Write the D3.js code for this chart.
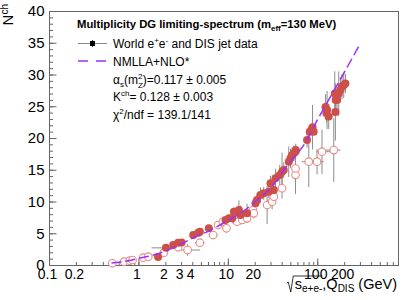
<!DOCTYPE html>
<html>
<head>
<meta charset="utf-8">
<script src="https://cdn.jsdelivr.net/npm/d3@7"></script>
<style>
    body { margin: 0; background: #fff; }
    svg text { font-family: "Liberation Sans", Arial, Helvetica, sans-serif; fill: #000; }
</style>
</head>
<body>
<svg id="chart" width="409" height="300"></svg>
<script>
(function (d3) {
    'use strict';

    // axes
    var xTickLabels = [0.1, 0.2, 1, 2, 3, 4, 10, 20, 100, 200];
    var xMajorTicks = [0.1, 1, 10, 100];
    var yTickLabels = [0, 5, 10, 15, 20, 25, 30, 35, 40];

    // world e+e- and DIS jet data (filled markers)
    var eeQ   = [1.66, 2.03, 2.45, 2.78, 3.04, 4.10, 4.66, 4.87, 6.13, 9.42, 10.3, 11.2, 11.7, 13.3, 13.9, 16.4,
                 20.4, 21.2, 23.2, 25.2, 28.7, 30.0, 32.7, 34.1, 38.1, 40.4, 42.2, 48.0, 50.2, 52.3, 54.6, 57.1,
                 57.5, 76.9, 82.4, 87.5, 88.6, 91.2, 123.6, 126.7, 128.8, 134.4, 156.9, 159.6, 161, 166.4,
                 173.9, 181.6, 189.3, 197.8, 206.6];
    var eeN   = [1.26, 2.70, 3.15, 3.51, 3.54, 4.72, 5.09, 5.24, 5.78, 7.09, 7.35, 7.35, 8.39, 8.66, 7.87, 8.14,
                 9.72, 10.24, 11.02, 11.29, 11.54, 12.87, 11.81, 13.65, 14.17, 14.69, 14.96, 16.27, 16.8, 17.3, 17.6, 17.84,
                 18.1, 19.7, 21.0, 21.5, 21.7, 21.0, 24.9, 23.9, 24.4, 23.4, 27.0, 24.1, 26.0, 26.0,
                 27.0, 27.6, 28.1, 28.3, 28.6];
    var eeErr = [0.35, 0.3, 0.3, 0.3, 0.3, 0.35, 0.3, 0.3, 0.4, 0.5, 0.6, 0.8, 0.7, 1.5, 1.5, 1.5,
                 0.8, 1.0, 1.2, 1.0, 1.0, 1.2, 1.8, 1.5, 1.6, 3.0, 1.2, 2.4, 1.5, 1.2, 1.2, 1.0,
                 1.0, 1.2, 1.0, 0.8, 3.5, 0.3, 2.0, 1.5, 3.0, 2.0, 3.5, 4.5, 1.5, 2.0,
                 3.5, 2.0, 2.0, 2.0, 1.5];
    var eeQlo = [null, 1.4, null, null, null, 3.9];
    var eeQhi = [null, 2.9, null, null, null, 5.1];

    // open markers
    var disQ   = [0.51, 0.69, 0.80, 0.86, 1.13, 1.29, 1.93, 2.78, 3.55, 4.87, 6.85, 7.79, 8.8, 9.66, 12.7, 14.5,
                  16.4, 19.1, 19.5, 27.5, 31.3, 32.7, 40.4, 57.1, 57.1, 80.4, 99.5, 113, 153];
    var disN   = [0.27, 0.52, 0.68, 0.79, 1.15, 1.31, 1.94, 2.79, 2.36, 3.51, 4.72, 6.3, 6.8, 5.78, 6.82, 7.09,
                  7.35, 8.66, 8.14, 9.45, 9.97, 10.76, 12.08, 14.2, 15.2, 16.27, 16.27, 17.84, 18.1];
    var disErr = [0.1, 0.1, 0.1, 0.1, 0.15, 0.15, 0.2, 0.25, 0.9, 0.4, 0.5, 0.4, 0.4, 0.7, 0.6, 0.6,
                  0.6, 0.8, 0.8, 3.0, 1.2, 1.0, 1.6, 3.0, 2.5, 4.0, 2.0, 3.5, 5.0];
    var disQlo = [null, null, null, null, null, null, null, null, 2.9, 4.3, 6.1, null, null, null, null, null,
                  null, null, null, null, null, null, null, null, null, 67, 85, 98, 125];
    var disQhi = [null, null, null, null, null, null, null, null, 4.9, 5.5, 7.7, null, null, null, null, null,
                  null, null, null, null, null, null, null, null, null, 95, 118, 140, 182];

    // NMLLA+NLO* curve
    var fitQ = [0.5, 0.6, 0.8, 1, 1.5, 2, 3, 4, 6, 10, 15, 20, 30, 50, 70, 100, 150, 200, 290];
    var fitN = [0.3, 0.45, 0.7, 1.05, 1.6, 2.2, 3.3, 4.2, 5.3, 7.0, 8.5, 9.9, 12.1, 16.3, 18.8, 22.8, 27.2, 30.3, 34.4];

    var red = '#cd4f47', pink = '#e88a86', violet = '#9b30ff', grey = '#8c8c8c', axisCol = '#666';

    var svg = d3.select('#chart');
    var left = 49, right = 398, top = 11, bottom = 265;

    var x = d3.scaleLog().domain([0.1, 800]).range([left, right]);
    var y = d3.scaleLinear().domain([0, 40]).range([bottom, top]);

    function toPoints(q, n, e, lo, hi) {
        return q.map(function (d, i) {
            return { q: d, n: n[i], e: e[i], lo: lo[i] || null, hi: hi[i] || null };
        });
    }
    var ee  = toPoints(eeQ, eeN, eeErr, eeQlo, eeQhi);
    var dis = toPoints(disQ, disN, disErr, disQlo, disQhi);

    // frame
    svg.append('rect')
        .attr('x', left + 0.5).attr('y', top + 0.5)
        .attr('width', right - left).attr('height', bottom - top)
        .attr('fill', 'none').attr('stroke', axisCol);

    // y axis
    function styleAxis(g) {
        g.select('.domain').remove();
        g.selectAll('line').attr('stroke', axisCol);
    }
    svg.append('g').attr('transform', 'translate(' + (left + 0.5) + ',0)')
        .call(d3.axisLeft(y).ticks(40).tickSize(-3.5).tickFormat(''))
        .call(styleAxis);
    svg.append('g').attr('transform', 'translate(' + (left + 0.5) + ',0)')
        .call(d3.axisLeft(y).tickValues(yTickLabels).tickSize(-7).tickPadding(5).tickFormat(d3.format('d')))
        .call(styleAxis)
        .selectAll('text').attr('font-size', 15).attr('x', -5);

    // x axis
    svg.append('g').attr('transform', 'translate(0,' + (bottom + 0.5) + ')')
        .call(d3.axisBottom(x).tickValues(x.ticks()).tickSize(-3.5).tickFormat(''))
        .call(styleAxis);
    svg.append('g').attr('transform', 'translate(0,' + (bottom + 0.5) + ')')
        .call(d3.axisBottom(x).tickValues(xMajorTicks).tickSize(-7).tickFormat(''))
        .call(styleAxis);
    svg.append('g').attr('transform', 'translate(0,' + (bottom + 0.5) + ')')
        .call(d3.axisBottom(x).tickValues(xTickLabels).tickSize(0).tickPadding(4).tickFormat(String))
        .call(styleAxis)
        .selectAll('text').attr('font-size', 14).attr('dx', -2);

    // error bars
    var bars = svg.append('g').attr('stroke', grey).attr('stroke-width', 1);
    ee.concat(dis).forEach(function (d) {
        bars.append('line')
            .attr('x1', x(d.q)).attr('x2', x(d.q))
            .attr('y1', y(d.n - d.e)).attr('y2', y(d.n + d.e));
        if (d.lo) {
            bars.append('line')
                .attr('x1', x(d.lo)).attr('x2', x(d.hi))
                .attr('y1', y(d.n)).attr('y2', y(d.n));
        }
    });

    // markers
    svg.append('g').selectAll('circle').data(dis).enter().append('circle')
        .attr('cx', function (d) { return x(d.q); })
        .attr('cy', function (d) { return y(d.n); })
        .attr('r', 3.8)
        .attr('fill', '#fff').attr('stroke', pink).attr('stroke-width', 1.1);

    svg.append('g').selectAll('circle').data(ee).enter().append('circle')
        .attr('cx', function (d) { return x(d.q); })
        .attr('cy', function (d) { return y(d.n); })
        .attr('r', 4)
        .attr('fill', red);

    // curve
    var line = d3.line()
        .x(function (d) { return x(d[0]); })
        .y(function (d) { return y(d[1]); })
        .curve(d3.curveMonotoneX);
    svg.append('path')
        .datum(fitQ.map(function (q, i) { return [q, fitN[i]]; }))
        .attr('d', line)
        .attr('fill', 'none').attr('stroke', violet)
        .attr('stroke-width', 1.5).attr('stroke-dasharray', '10,4');

    // legend
    var lg = svg.append('g');
    var header = lg.append('text').attr('x', 77).attr('y', 28)
        .attr('font-size', 11.3).attr('font-weight', 'bold');
    header.append('tspan').text('Multiplicity DG limiting-spectrum (m');
    header.append('tspan').attr('font-size', 8).attr('dy', 3).text('eff');
    header.append('tspan').attr('dy', -3).text('=130 MeV)');

    lg.append('line').attr('x1', 78).attr('x2', 107).attr('y1', 43.5).attr('y2', 43.5)
        .attr('stroke', '#888');
    lg.append('line').attr('x1', 92.5).attr('x2', 92.5).attr('y1', 40).attr('y2', 47)
        .attr('stroke', '#333');
    lg.append('rect').attr('x', 90).attr('y', 41).attr('width', 5).attr('height', 5).attr('fill', '#000');
    var t1 = lg.append('text').attr('x', 113).attr('y', 47.5).attr('font-size', 12);
    t1.append('tspan').text('World e');
    t1.append('tspan').attr('font-size', 8).attr('dy', -5).text('+');
    t1.append('tspan').attr('dy', 5).text('e');
    t1.append('tspan').attr('font-size', 8).attr('dy', -5).text('-');
    t1.append('tspan').attr('dy', 5).text(' and DIS jet data');

    lg.append('line').attr('x1', 78).attr('x2', 107).attr('y1', 61).attr('y2', 61)
        .attr('stroke', violet).attr('stroke-width', 1.5).attr('stroke-dasharray', '10,8');
    lg.append('text').attr('x', 113).attr('y', 65.5).attr('font-size', 12).text('NMLLA+NLO*');

    var t3 = lg.append('text').attr('x', 113).attr('y', 83.5).attr('font-size', 12);
    t3.append('tspan').text('α');
    t3.append('tspan').attr('font-size', 8).attr('dy', 3).text('s');
    t3.append('tspan').attr('dy', -3).text('(m');
    t3.append('tspan').attr('font-size', 8).attr('dy', -5).text('2');
    t3.append('tspan').attr('font-size', 8).attr('dx', -4.5).attr('dy', 9).text('Z');
    t3.append('tspan').attr('dy', -4).text(')=0.117 ± 0.005');

    var t4 = lg.append('text').attr('x', 113).attr('y', 100.5).attr('font-size', 12);
    t4.append('tspan').text('K');
    t4.append('tspan').attr('font-size', 8).attr('dy', -5).text('ch');
    t4.append('tspan').attr('dy', 5).text('=  0.128 ± 0.003');

    var t5 = lg.append('text').attr('x', 113).attr('y', 119).attr('font-size', 12);
    t5.append('tspan').text('χ');
    t5.append('tspan').attr('font-size', 8).attr('dy', -5).text('2');
    t5.append('tspan').attr('dy', 5).text('/ndf = 139.1/141');

    // axis titles
    var yt = svg.append('text').attr('transform', 'translate(13,4) rotate(-90)')
        .attr('text-anchor', 'end').attr('font-size', 15);
    yt.append('tspan').text('N');
    yt.append('tspan').attr('font-size', 10).attr('dy', -5).text('ch');

    var xt = svg.append('text').attr('x', 397).attr('y', 289)
        .attr('text-anchor', 'end').attr('font-size', 14.5);
    xt.append('tspan').text('s');
    xt.append('tspan').attr('font-size', 10).attr('dy', 3).text('e+e-');
    xt.append('tspan').attr('dy', -3).text(',Q');
    xt.append('tspan').attr('font-size', 10).attr('dy', 3).text('DIS');
    xt.append('tspan').attr('dy', -3).text(' (GeV)');

    var node = xt.node();
    var x0 = node.getStartPositionOfChar(0).x;
    var xc = node.getStartPositionOfChar(5).x;
    svg.append('path')
        .attr('d', 'M' + (x0 - 8) + ',283 L' + (x0 - 6.5) + ',282 L' + (x0 - 4) + ',292 L' +
            (x0 - 1.5) + ',276 L' + xc + ',276')
        .attr('fill', 'none').attr('stroke', '#000').attr('stroke-width', 0.8);
}(window.d3));
</script>
</body>
</html>
